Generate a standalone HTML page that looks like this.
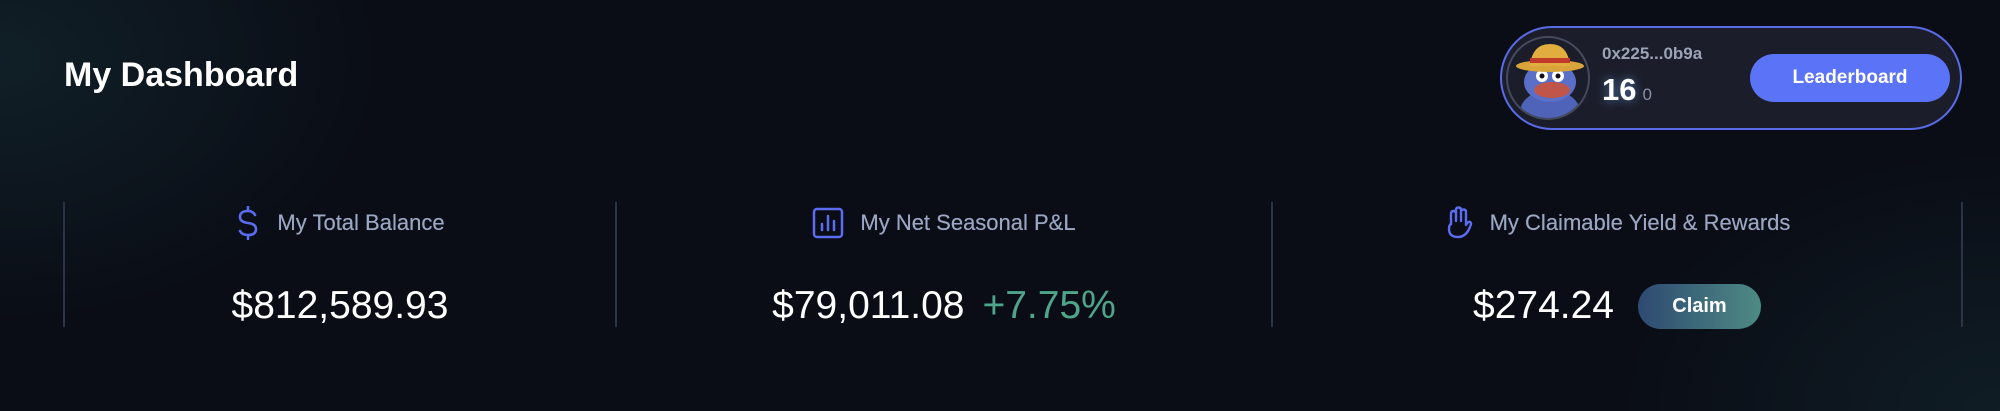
<!DOCTYPE html>
<html style="width:2000px;height:411px;overflow:hidden"><head><meta charset="utf-8"><style>
*{margin:0;padding:0;box-sizing:border-box}
body{width:2000px;height:411px;overflow:hidden;background:#0a0d16;font-family:"Liberation Sans",sans-serif;position:relative}
.glow{position:absolute;left:0;top:0;width:2000px;height:411px;background:radial-gradient(ellipse 380px 260px at 0px 60px,rgba(30,70,75,.32),rgba(10,13,22,0)),radial-gradient(ellipse 380px 260px at 2000px 411px,rgba(30,70,75,.28),rgba(10,13,22,0))}
.title{position:absolute;left:64px;top:56px;font-size:34px;font-weight:bold;color:#fff}
.pill{position:absolute;left:1500px;top:26px;width:462px;height:104px;border:2px solid #5a6be8;border-radius:52px;background:#1b1e2a}
.avatar{position:absolute;left:4px;top:8px;width:84px;height:84px;border-radius:50%;border:2px solid #444a5c;background:#1b1e2a;overflow:hidden}
.addr{position:absolute;left:100px;top:16px;font-size:17px;font-weight:bold;color:#9ba3b6}
.score{position:absolute;left:100px;top:44px;font-size:31px;font-weight:bold;color:#fff;text-shadow:0 0 10px rgba(120,170,255,.6)}
.score span{font-size:17px;font-weight:normal;color:#8890a4;text-shadow:none;margin-left:6px}
.lb{position:absolute;left:248px;top:26px;width:200px;height:48px;border-radius:24px;background:#5b73f7;color:#fff;font-size:19px;font-weight:bold;display:flex;align-items:center;justify-content:center}
.div{position:absolute;top:202px;width:2px;height:125px;background:#2a3448}
.col{position:absolute;top:205px;height:130px;display:flex;flex-direction:column;align-items:center}
.head{display:flex;align-items:center;gap:16px;height:36px;font-size:22px;color:#9aa6c2;text-shadow:0 0 .4px #9aa6c2}
.val{margin-top:42px;display:flex;align-items:center;gap:18px;font-size:39px;color:#fff;height:46px}
.green{color:#4fa58a}
.claim{width:123px;height:45px;border-radius:23px;background:linear-gradient(90deg,#2e4a72,#4e8a84);color:#fff;font-size:20px;font-weight:bold;display:flex;align-items:center;justify-content:center;margin-left:6px}
</style></head><body>
<div class="glow"></div>
<div class="title">My Dashboard</div>
<div class="pill">
 <div class="avatar">
  <svg width="84" height="84" viewBox="0 0 84 84">
   <ellipse cx="42" cy="74" rx="30" ry="22" fill="#4f64b8"/>
   <ellipse cx="42" cy="44" rx="26" ry="20" fill="#5a70c8"/>
   <ellipse cx="44" cy="52" rx="18" ry="8" fill="#c0554a"/>
   <circle cx="34" cy="38" r="6" fill="#fff"/><circle cx="50" cy="38" r="6" fill="#fff"/>
   <circle cx="34" cy="38" r="2.5" fill="#111"/><circle cx="50" cy="38" r="2.5" fill="#111"/>
   <ellipse cx="42" cy="28" rx="34" ry="6" fill="#d9a43a"/>
   <path d="M22 28 Q24 6 42 6 Q60 6 62 28 Z" fill="#e0ad3e"/>
   <rect x="22" y="20" width="40" height="5" fill="#c0392b"/>
  </svg>
 </div>
 <div class="addr">0x225...0b9a</div>
 <div class="score">16<span>0</span></div>
 <div class="lb">Leaderboard</div>
</div>
<div class="div" style="left:63px"></div>
<div class="div" style="left:615px"></div>
<div class="div" style="left:1271px"></div>
<div class="div" style="left:1961px"></div>

<div class="col" style="left:64px;width:552px">
 <div class="head"><svg width="26" height="34" viewBox="0 0 26 34"><path d="M20 9 Q18 5 13 5 Q5 5 5 11 Q5 16 13 17 Q21 18 21 23 Q21 29 13 29 Q7 29 5 25 M13 1 V5 M13 29 V33" fill="none" stroke="#5b6cf0" stroke-width="2.6" stroke-linecap="round"/></svg><span>My Total Balance</span></div>
 <div class="val">$812,589.93</div>
</div>
<div class="col" style="left:617px;width:654px">
 <div class="head"><svg width="32" height="32" viewBox="0 0 32 32"><rect x="2" y="2" width="28" height="28" rx="3" fill="none" stroke="#5b6cf0" stroke-width="2.5"/><path d="M10 23V17M16 23V9M22 23V14" stroke="#5b6cf0" stroke-width="2.5" stroke-linecap="round"/></svg><span>My Net Seasonal P&amp;L</span></div>
 <div class="val"><span>$79,011.08</span><span class="green">+7.75%</span></div>
</div>
<div class="col" style="left:1273px;width:688px">
 <div class="head"><svg width="30" height="34" viewBox="0 0 30 34"><path d="M7 18 V8 Q7 5 9.5 5 Q12 5 12 8 V15 M12 15 V4 Q12 1.5 14.5 1.5 Q17 1.5 17 4 V15 M17 15 V6 Q17 3.5 19.5 3.5 Q22 3.5 22 6 V19 Q24 15 26 16 Q28 17 26 21 Q22 31 14 31 Q5 31 5 23 Q5 19 7 18" fill="none" stroke="#5b6cf0" stroke-width="2.4" stroke-linejoin="round" stroke-linecap="round"/></svg><span>My Claimable Yield &amp; Rewards</span></div>
 <div class="val"><span>$274.24</span><div class="claim">Claim</div></div>
</div>
</body></html>
